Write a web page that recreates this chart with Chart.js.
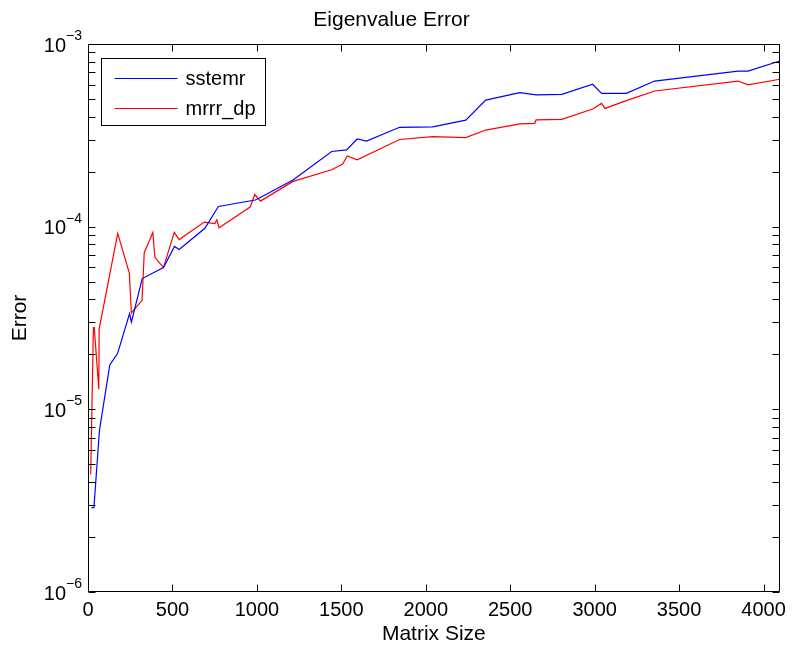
<!DOCTYPE html>
<html>
<head>
<meta charset="utf-8">
<script src="https://cdn.jsdelivr.net/npm/chart.js@4.4.0/dist/chart.umd.min.js"></script>
<style>
    html, body { margin: 0; padding: 0; background: #fff; }
</style>
</head>
<body>
<canvas id="eigChart" width="792" height="648"></canvas>
<script>
// DATA
const sstemrSizes = [20, 35, 68, 129, 175, 246, 257, 321, 447, 512, 540, 692, 772, 990, 1012, 1214, 1443, 1531, 1594, 1649, 1845, 2041, 2237, 2355, 2557, 2655, 2806, 2988, 3041, 3188, 3355, 3849, 3908, 4096]
const sstemrErrors = [2.9e-6, 2.9e-6, 7.7e-6, 1.75e-5, 2.02e-5, 3.34e-5, 3.0e-5, 5.2e-5, 5.97e-5, 7.8e-5, 7.5e-5, 9.8e-5, 1.29e-4, 1.4e-4, 1.43e-4, 1.8e-4, 2.58e-4, 2.63e-4, 3.02e-4, 2.94e-4, 3.5e-4, 3.52e-4, 3.83e-4, 4.93e-4, 5.42e-4, 5.26e-4, 5.3e-4, 6.02e-4, 5.37e-4, 5.37e-4, 6.27e-4, 7.1e-4, 7.1e-4, 8.07e-4]

const mrrrSizes = [16, 32, 37, 64, 66, 176, 245, 257, 320, 333, 384, 396, 447, 511, 540, 688, 751, 763, 776, 960, 988, 1021, 1214, 1443, 1508, 1535, 1594, 1845, 2041, 2237, 2355, 2557, 2645, 2653, 2806, 2988, 3041, 3061, 3188, 3355, 3849, 3908, 4096]
const mrrrErrors = [4.4e-6, 2.8e-5, 2.8e-5, 1.29e-5, 2.75e-5, 9.2e-5, 5.55e-5, 3.37e-5, 3.95e-5, 7.2e-5, 9.3e-5, 6.8e-5, 5.97e-5, 9.3e-5, 8.5e-5, 1.06e-4, 1.04e-4, 1.09e-4, 9.85e-5, 1.28e-4, 1.5e-4, 1.38e-4, 1.77e-4, 2.05e-4, 2.2e-4, 2.44e-4, 2.32e-4, 3.0e-4, 3.11e-4, 3.07e-4, 3.38e-4, 3.65e-4, 3.68e-4, 3.84e-4, 3.87e-4, 4.41e-4, 4.73e-4, 4.44e-4, 4.9e-4, 5.53e-4, 6.27e-4, 5.97e-4, 6.41e-4]

const xTicks = [0, 500, 1000, 1500, 2000, 2500, 3000, 3500, 4000]
const yTickExps = [-6, -5, -4, -3]
const xMax = 4096

const FONT = "'Liberation Sans', Arial, Helvetica, sans-serif"
const tickLen = 7

const toPoints = (xs, ys) => xs.map((x, i) => ({ x: x, y: ys[i] }))

// FRAME: box, inward ticks on all four sides, 10^n labels
const framePlugin = {
    id: 'frame',
    afterDatasetsDraw(chart) {
        const { ctx, chartArea: area, scales } = chart
        const xs = scales.x
        const ys = scales.y
        const left = Math.round(area.left) + 0.5
        const right = Math.round(area.right) - 0.5
        const top = Math.round(area.top) + 0.5
        const bottom = Math.round(area.bottom) - 0.5

        ctx.save()
        ctx.strokeStyle = '#000'
        ctx.lineWidth = 1
        ctx.beginPath()

        xTicks.forEach((value) => {
            const px = Math.round(xs.getPixelForValue(value)) + 0.5
            ctx.moveTo(px, bottom)
            ctx.lineTo(px, bottom - tickLen)
            ctx.moveTo(px, top)
            ctx.lineTo(px, top + tickLen)
        })

        yTickExps.forEach((exp, i) => {
            const mults = i < yTickExps.length - 1 ? [1, 2, 3, 4, 5, 6, 7, 8, 9] : [1]
            mults.forEach((m) => {
                const py = Math.round(ys.getPixelForValue(m * Math.pow(10, exp))) + 0.5
                ctx.moveTo(left, py)
                ctx.lineTo(left + tickLen, py)
                ctx.moveTo(right, py)
                ctx.lineTo(right - tickLen, py)
            })
        })

        ctx.rect(left, top, right - left, bottom - top)
        ctx.stroke()

        // y labels as 10 with a raised exponent
        ctx.fillStyle = '#000'
        yTickExps.forEach((exp) => {
            const py = ys.getPixelForValue(Math.pow(10, exp))
            const baseX = area.left - 22
            ctx.font = `20px ${FONT}`
            ctx.textAlign = 'right'
            ctx.textBaseline = 'middle'
            ctx.fillText('10', baseX, py + 2)
            ctx.font = `14px ${FONT}`
            ctx.textAlign = 'left'
            ctx.textBaseline = 'alphabetic'
            ctx.fillText('\u2212' + Math.abs(exp), baseX, py - 4)
        })
        ctx.restore()
    }
}

// LEGEND: boxed, upper left inside the axes
const boxLegendPlugin = {
    id: 'boxLegend',
    afterDraw(chart) {
        const { ctx, chartArea: area } = chart
        const boxX = area.left + 13.5
        const boxY = area.top + 14.5
        const boxW = 164
        const boxH = 67
        const rowGap = 30

        ctx.save()
        ctx.fillStyle = '#fff'
        ctx.fillRect(boxX, boxY, boxW, boxH)
        ctx.strokeStyle = '#000'
        ctx.lineWidth = 1
        ctx.strokeRect(boxX, boxY, boxW, boxH)

        chart.data.datasets.forEach((ds, i) => {
            const rowY = Math.round(boxY + 19 + i * rowGap) + 0.5
            ctx.strokeStyle = ds.borderColor
            ctx.lineWidth = ds.borderWidth
            ctx.beginPath()
            ctx.moveTo(boxX + 13, rowY)
            ctx.lineTo(boxX + 76, rowY)
            ctx.stroke()

            ctx.fillStyle = '#000'
            ctx.font = `20px ${FONT}`
            ctx.textAlign = 'left'
            ctx.textBaseline = 'middle'
            ctx.fillText(ds.label, boxX + 84, rowY + 1)
        })
        ctx.restore()
    }
}

// CHART
const eigCtx = document.getElementById('eigChart')

new Chart(eigCtx, {
    type: 'line',
    data: {
        datasets: [
            {
                label: 'sstemr',
                data: toPoints(sstemrSizes, sstemrErrors),
                borderColor: '#0000ff',
                backgroundColor: '#0000ff',
                borderWidth: 1.2,
                pointRadius: 0,
                tension: 0,
            },
            {
                label: 'mrrr_dp',
                data: toPoints(mrrrSizes, mrrrErrors),
                borderColor: '#ff0000',
                backgroundColor: '#ff0000',
                borderWidth: 1.2,
                pointRadius: 0,
                tension: 0,
            }
        ]
    },
    options: {
        responsive: false,
        animation: false,
        devicePixelRatio: 1,
        layout: {
            padding: { left: 0, right: 9, top: 0, bottom: 0 }
        },
        plugins: {
            legend: { display: false },
            tooltip: { enabled: false },
            title: {
                display: true,
                text: 'Eigenvalue Error',
                color: '#000',
                font: { family: FONT, size: 21, weight: 'normal' },
                padding: { top: 8, bottom: 10.8 },
            },
        },
        scales: {
            x: {
                type: 'linear',
                min: 0,
                max: xMax,
                afterFit: (scale) => { scale.height = 56 },
                afterBuildTicks: (scale) => {
                    scale.ticks = xTicks.map(v => ({ value: v }))
                },
                grid: { display: false, drawTicks: false },
                border: { display: false },
                ticks: {
                    color: '#000',
                    font: { family: FONT, size: 20 },
                    padding: 6,
                    maxRotation: 0,
                    autoSkip: false,
                    includeBounds: false,
                    callback: (value) => String(value),
                },
                title: {
                    display: true,
                    text: 'Matrix Size',
                    color: '#000',
                    font: { family: FONT, size: 21 },
                    padding: { top: 0, bottom: 1 },
                },
            },
            y: {
                type: 'logarithmic',
                min: 1e-6,
                max: 1e-3,
                afterFit: (scale) => { scale.width = 88 },
                grid: { display: false, drawTicks: false },
                border: { display: false },
                ticks: { display: false },
                title: {
                    display: true,
                    text: 'Error',
                    color: '#000',
                    font: { family: FONT, size: 21 },
                    padding: { top: 8, bottom: 0 },
                },
            }
        }
    },
    plugins: [framePlugin, boxLegendPlugin],
})
</script>
</body>
</html>
